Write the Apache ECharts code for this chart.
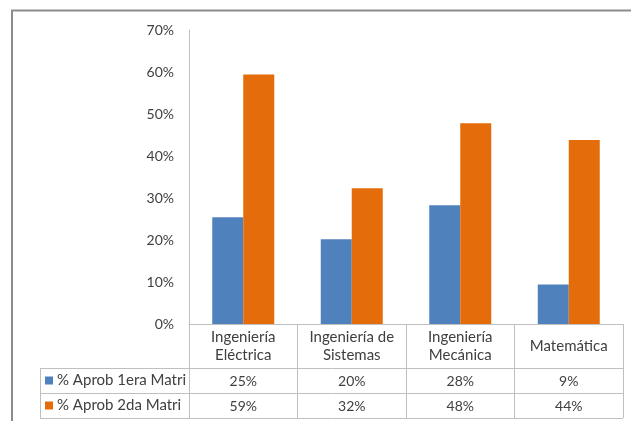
<!DOCTYPE html>
<html><head><meta charset="utf-8">
<script src="https://cdn.jsdelivr.net/npm/echarts@6/dist/echarts.min.js"></script>
<style>html,body{margin:0;padding:0;background:#fff}#c{width:631px;height:421px}</style>
</head><body><div id="c"></div>
<script>
var categories = ['Ingeniería\nEléctrica', 'Ingeniería de\nSistemas', 'Ingeniería\nMecánica', 'Matemática'];
var seriesNames = ['% Aprob 1era Matri', '% Aprob 2da Matri'];
var aprob1 = [25.4, 20.2, 28.3, 9.4];
var aprob2 = [59.4, 32.3, 47.8, 43.8];
var yTicks = {min: 0, max: 70, interval: 10};

var pct = function (v) { return Math.round(v) + '%'; };
var labels1 = aprob1.map(pct);
var labels2 = aprob2.map(pct);

var FONT = 'Lato';
var FS = 14, FS_TXT = 15;
var TXT = '#404040';
var LINE = '#BFBFBF';
var chart = echarts.init(document.getElementById('c'), null, {renderer: 'canvas'});

var gridL = 189, gridR = 8, gridT = 30, gridB = 97;
var axisY = 421 - gridB;
var row1 = axisY + 44, row2 = row1 + 25, row3 = row2 + 25;
var tableLeft = 40, tableRight = 631 - gridR;

function valueAxis(data, offset) {
  return {
    type: 'category', data: data, position: 'bottom', offset: offset,
    axisLine: {show: false}, axisTick: {show: false},
    axisLabel: {color: TXT, fontFamily: FONT, fontSize: FS, margin: 13, verticalAlign: 'middle'}
  };
}

chart.setOption({
  animation: false,
  textStyle: {fontFamily: FONT},
  grid: {left: gridL, right: gridR, top: gridT, bottom: gridB, containLabel: false},
  legend: {
    orient: 'vertical', left: 45, top: row1, padding: 0, itemGap: 0,
    itemWidth: 8, itemHeight: 8, icon: 'rect',
    textStyle: {color: TXT, fontFamily: FONT, fontSize: FS_TXT, lineHeight: 25, padding: [0, 0, 0, -1]},
    data: seriesNames
  },
  xAxis: [
    {
      type: 'category', data: categories, position: 'bottom',
      axisLine: {show: true, lineStyle: {color: LINE, width: 1}},
      axisTick: {show: true, length: row3 - axisY, lineStyle: {color: LINE}},
      axisLabel: {color: TXT, fontFamily: FONT, fontSize: FS_TXT, lineHeight: 18, margin: 22,
                  verticalAlign: 'middle', interval: 0}
    },
    valueAxis(labels1, 44),
    valueAxis(labels2, 69)
  ],
  yAxis: {
    type: 'value', min: yTicks.min, max: yTicks.max, interval: yTicks.interval,
    axisLine: {show: true, lineStyle: {color: LINE}},
    axisTick: {show: false},
    splitLine: {show: false},
    axisLabel: {formatter: '{value}%', color: TXT, fontFamily: FONT, fontSize: FS, margin: 15}
  },
  series: [
    {name: seriesNames[0], type: 'bar', data: aprob1, barWidth: 31, barGap: '0%',
     itemStyle: {color: '#4F81BD'}},
    {name: seriesNames[1], type: 'bar', data: aprob2, barWidth: 31, barGap: '0%',
     itemStyle: {color: '#E46C0A'}}
  ],
  graphic: [
    {type: 'rect', silent: true, shape: {x: 12, y: 10.5, width: 800, height: 600},
     style: {fill: 'none', stroke: '#8C8C8C', lineWidth: 2}},
    {type: 'line', silent: true, shape: {x1: tableLeft, y1: row1 + 0.5, x2: tableRight, y2: row1 + 0.5},
     style: {stroke: LINE, lineWidth: 1}},
    {type: 'line', silent: true, shape: {x1: tableLeft, y1: row2 + 0.5, x2: tableRight, y2: row2 + 0.5},
     style: {stroke: LINE, lineWidth: 1}},
    {type: 'line', silent: true, shape: {x1: tableLeft, y1: row3 + 0.5, x2: tableRight, y2: row3 + 0.5},
     style: {stroke: LINE, lineWidth: 1}},
    {type: 'line', silent: true, shape: {x1: tableLeft + 0.5, y1: row1, x2: tableLeft + 0.5, y2: row3},
     style: {stroke: LINE, lineWidth: 1}}
  ]
});
</script></body></html>
